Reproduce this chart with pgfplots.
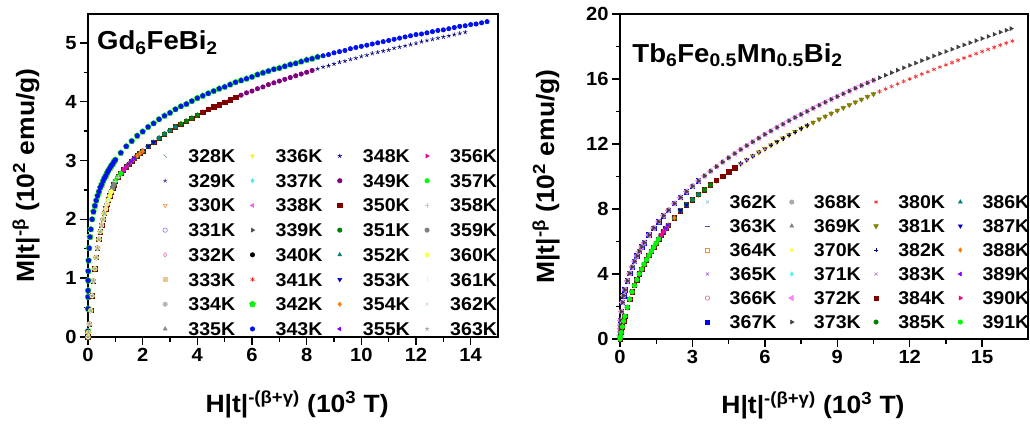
\documentclass[border=0pt]{standalone}
\usepackage{fontspec}
\setmainfont{Liberation Sans}[FakeStretch=1.06]
\usepackage{pgfplots}
\usepackage{pgfplotstable}
\pgfplotsset{compat=1.18}

% ---------- master curves ----------
\pgfplotstableread{
x y
0 0.10
0.0002 0.48
0.001 0.68
0.002 0.79
0.005 0.96
0.01 1.12
0.02 1.30
0.04 1.51
0.07 1.70
0.1 1.83
0.15 2.00
0.2 2.13
0.25 2.23
0.3 2.32
0.35 2.40
0.4 2.47
0.45 2.54
0.5 2.59
0.55 2.65
0.6 2.70
0.65 2.74
0.7 2.79
0.75 2.83
0.8 2.87
0.85 2.91
0.9 2.94
0.95 2.98
1.0 3.01
1.2 3.13
1.4 3.24
1.6 3.33
1.8 3.42
2.0 3.49
2.2 3.57
2.4 3.63
2.6 3.70
2.8 3.76
3.0 3.81
3.2 3.87
3.4 3.92
3.6 3.96
3.8 4.01
4.0 4.06
4.2 4.10
4.4 4.14
4.6 4.18
4.8 4.22
5.0 4.25
5.2 4.29
5.4 4.33
5.6 4.36
5.8 4.39
6.0 4.42
6.2 4.46
6.4 4.49
6.6 4.52
6.8 4.55
7.0 4.57
7.2 4.60
7.4 4.63
7.6 4.65
7.8 4.68
8.0 4.71
8.2 4.73
8.4 4.76
8.6 4.78
8.8 4.80
9.0 4.83
9.2 4.85
9.4 4.87
9.6 4.90
9.8 4.92
10.0 4.94
10.2 4.96
10.4 4.98
10.6 5.00
10.8 5.02
11.0 5.04
11.2 5.06
11.4 5.08
11.6 5.10
11.8 5.12
12.0 5.14
12.2 5.15
12.4 5.17
12.6 5.19
12.8 5.21
13.0 5.22
13.2 5.24
13.4 5.26
13.6 5.28
13.8 5.29
14.0 5.31
14.2 5.32
14.4 5.34
14.6 5.36
}\LU

\pgfplotstableread{
x y
0 0
0.02 0.08
0.05 0.22
0.1 0.45
0.15 0.70
0.2 0.95
0.25 1.16
0.3 1.35
0.35 1.51
0.4 1.66
0.45 1.79
0.5 1.90
0.55 2.00
0.6 2.10
0.65 2.18
0.7 2.26
0.75 2.33
0.8 2.40
0.85 2.47
0.9 2.53
0.95 2.59
1.0 2.65
1.1 2.72
1.2 2.78
1.3 2.84
1.4 2.89
1.5 2.94
1.6 2.99
1.7 3.04
1.8 3.08
1.9 3.12
2.0 3.16
2.2 3.24
2.4 3.31
2.6 3.38
2.8 3.45
3.0 3.51
3.2 3.57
3.4 3.62
3.6 3.67
3.8 3.72
4.0 3.77
4.2 3.82
4.4 3.87
4.6 3.91
4.8 3.95
5.0 3.99
5.2 4.03
5.4 4.07
5.6 4.11
5.8 4.15
6.0 4.18
6.2 4.22
6.4 4.25
6.6 4.29
6.8 4.32
7.0 4.35
7.2 4.38
7.4 4.41
7.6 4.44
7.8 4.47
8.0 4.50
8.2 4.53
8.4 4.56
8.6 4.59
8.8 4.61
9.0 4.64
9.2 4.67
9.4 4.69
9.6 4.72
9.8 4.74
10.0 4.77
10.2 4.79
10.4 4.82
10.6 4.84
10.8 4.86
11.0 4.88
11.2 4.91
11.4 4.93
11.6 4.95
11.8 4.97
12.0 4.99
12.2 5.02
12.4 5.04
12.6 5.06
12.8 5.08
13.0 5.10
13.2 5.12
13.4 5.14
13.6 5.16
13.8 5.18
}\LL

\pgfplotstableread{
x y
0 0.20
0.002 0.44
0.005 0.64
0.01 0.86
0.02 1.15
0.05 1.69
0.1 2.25
0.15 2.67
0.2 3.02
0.3 3.58
0.4 4.04
0.5 4.43
0.6 4.78
0.7 5.11
0.8 5.40
0.9 5.67
1.0 5.93
1.2 6.40
1.4 6.83
1.6 7.22
1.8 7.59
2.0 7.93
2.25 8.34
2.5 8.71
2.75 9.07
3.0 9.41
3.25 9.73
3.5 10.04
3.75 10.33
4.0 10.61
4.25 10.89
4.5 11.15
4.75 11.41
5.0 11.66
5.25 11.90
5.5 12.13
5.75 12.36
6.0 12.59
6.25 12.80
6.5 13.02
6.75 13.22
7.0 13.43
7.25 13.63
7.5 13.82
7.75 14.01
8.0 14.20
8.25 14.39
8.5 14.57
8.75 14.75
9.0 14.92
9.25 15.09
9.5 15.26
9.75 15.43
10.0 15.60
10.25 15.76
10.5 15.92
10.75 16.08
11.0 16.23
11.25 16.39
11.5 16.54
11.75 16.69
12.0 16.84
12.25 16.98
12.5 17.13
12.75 17.27
13.0 17.42
13.25 17.56
13.5 17.69
13.75 17.83
14.0 17.97
14.25 18.10
14.5 18.23
14.75 18.36
15.0 18.49
15.25 18.62
15.5 18.75
15.75 18.88
16.0 19.00
16.2 19.10
}\RU

\pgfplotstableread{
x y
0 0
0.02 0.15
0.05 0.40
0.1 0.75
0.15 1.10
0.2 1.40
0.3 1.95
0.4 2.45
0.5 2.90
0.6 3.30
0.7 3.65
0.8 4.00
0.9 4.30
1.0 4.60
1.1 4.88
1.2 5.15
1.3 5.40
1.4 5.65
1.5 5.90
1.6 6.15
1.7 6.38
1.8 6.60
1.9 6.80
2.0 7.00
2.25 7.45
2.5 7.90
2.75 8.25
3.0 8.57
3.25 8.89
3.5 9.19
3.75 9.48
4.0 9.76
4.25 10.03
4.5 10.29
4.75 10.54
5.0 10.79
5.25 11.03
5.5 11.26
5.75 11.49
6.0 11.71
6.25 11.93
6.5 12.14
6.75 12.35
7.0 12.56
7.25 12.75
7.5 12.95
7.75 13.14
8.0 13.33
8.25 13.52
8.5 13.70
8.75 13.88
9.0 14.06
9.25 14.23
9.5 14.40
9.75 14.57
10.0 14.74
10.25 14.91
10.5 15.07
10.75 15.23
11.0 15.39
11.25 15.54
11.5 15.70
11.75 15.85
12.0 16.00
12.25 16.15
12.5 16.30
12.75 16.44
13.0 16.59
13.25 16.73
13.5 16.87
13.75 17.01
14.0 17.15
14.25 17.29
14.5 17.42
14.75 17.56
15.0 17.69
15.25 17.82
15.5 17.95
15.75 18.08
16.0 18.21
16.25 18.34
}\RL

% ---------- colours ----------
\definecolor{k328}{HTML}{6A9C9C}
\definecolor{k329}{HTML}{4848A0}
\definecolor{k330}{HTML}{E8903C}
\definecolor{k331}{HTML}{A070D8}
\definecolor{k332}{HTML}{E078C8}
\definecolor{k333}{HTML}{E8C890}
\definecolor{k334}{HTML}{B8B8B8}
\definecolor{k335}{HTML}{888888}
\definecolor{k336}{HTML}{F0F040}
\definecolor{k337}{HTML}{60E8F0}
\definecolor{k338}{HTML}{F060F0}
\definecolor{k339}{HTML}{484848}
\definecolor{k340}{HTML}{000000}
\definecolor{k341}{HTML}{F02020}
\definecolor{k342}{HTML}{10F010}
\definecolor{k343}{HTML}{0010F0}
\definecolor{k348}{HTML}{000080}
\definecolor{k349}{HTML}{800080}
\definecolor{k350}{HTML}{800000}
\definecolor{k351}{HTML}{008000}
\definecolor{k352}{HTML}{008080}
\definecolor{k353}{HTML}{0000C0}
\definecolor{k354}{HTML}{FF8000}
\definecolor{k355}{HTML}{8000FF}
\definecolor{k356}{HTML}{FF00A0}
\definecolor{k357}{HTML}{00FF00}
\definecolor{k358}{HTML}{C8C8C8}
\definecolor{k359}{HTML}{808080}
\definecolor{k360}{HTML}{FFFF50}
\definecolor{k361}{HTML}{C0FFFF}
\definecolor{k362}{HTML}{F0C0F0}
\definecolor{k363}{HTML}{A0A0A0}
% right panel
\definecolor{r362}{HTML}{80C0E0}
\definecolor{r363}{HTML}{5050A8}
\definecolor{r364}{HTML}{F09030}
\definecolor{r365}{HTML}{A050E0}
\definecolor{r366}{HTML}{E06090}
\definecolor{r367}{HTML}{0000FF}
\definecolor{r368}{HTML}{A8A8A8}
\definecolor{r369}{HTML}{808080}
\definecolor{r370}{HTML}{FFFF40}
\definecolor{r371}{HTML}{60F0F0}
\definecolor{r372}{HTML}{FF80FF}
\definecolor{r373}{HTML}{404040}
\definecolor{r380}{HTML}{F03030}
\definecolor{r381}{HTML}{808000}
\definecolor{r382}{HTML}{000080}
\definecolor{r383}{HTML}{C080C0}
\definecolor{r384}{HTML}{800000}
\definecolor{r385}{HTML}{008000}
\definecolor{r386}{HTML}{008080}
\definecolor{r387}{HTML}{0000C0}
\definecolor{r388}{HTML}{FF8000}
\definecolor{r389}{HTML}{8000FF}
\definecolor{r390}{HTML}{FF0080}
\definecolor{r391}{HTML}{00FF00}

\newcommand{\tickfont}{\bfseries\fontsize{19bp}{19bp}\selectfont}
\newcommand{\labfont}{\bfseries\fontsize{25bp}{25bp}\selectfont}
\newcommand{\legfont}{\bfseries\fontsize{18.5bp}{18.5bp}\selectfont}

% one series: mark, colour, mark options, upper end of x, table
\newcommand{\ser}[5]{\addplot[only marks, mark=#1, color=#2, mark size=2.2bp,
  mark options={solid,line width=0.6bp,#3}, restrict x to domain=0:#4] table {#5};}

\pgfplotsset{
  panel/.style={
    scale only axis, clip=false,
    tick align=outside, xtick pos=bottom, ytick pos=left,
    axis line style={line width=1.6bp},
    tick style={line width=1.4bp, black},
    major tick length=8bp, minor tick length=4.5bp,
    minor x tick num=1, minor y tick num=1,
    /pgf/number format/assume math mode=true,
    ticklabel style={font=\tickfont},
    label style={font=\labfont},
    transpose legend,
    legend cell align=left,
    legend style={draw=none, fill=none, inner sep=0pt, outer sep=0pt,
      anchor=north west, font=\legfont,
      nodes={inner sep=0pt, text height=13bp, text depth=0bp}},
    legend image code/.code={\path (0bp,-6.5bp) (22bp,6.5bp);
      \draw[##1] plot coordinates {(11bp,0bp)};},
  }
}

\begin{document}
\begin{tikzpicture}
\useasboundingbox (0,0) rectangle (1030bp,427bp);

% ================= left panel =================
\begin{axis}[panel,
  at={(88bp,90bp)}, anchor=south west,
  width=410bp, height=323bp,
  xmin=0, xmax=15, ymin=0, ymax=5.49,
  xtick={0,2,...,14}, ytick={0,1,...,5},
  xlabel={H|t|\textsuperscript{-(β+γ)} (10\textsuperscript{3} T)},
  ylabel={M|t|\textsuperscript{-β} (10\textsuperscript{2} emu/g)},
  x label style={at={(axis description cs:0.51,-0.21)}, anchor=center},
  y label style={at={(axis description cs:-0.151,0.5)}, anchor=center},
  legend columns=8,
  legend style={at={(axis description cs:0.161,0.581)}, row sep=11.3bp,
      /tikz/every odd column/.append style={column sep=12bp},
      /tikz/every even column/.append style={column sep=6bp}},
]
\ser{|}{k328}{rotate=45}{0.65}{\LU}\addlegendentry{328K}
\ser{star}{k329}{}{0.72}{\LU}\addlegendentry{329K}
\ser{triangle}{k330}{rotate=180}{0.8}{\LU}\addlegendentry{330K}
\ser{o}{k331}{}{0.9}{\LU}\addlegendentry{331K}
\ser{diamond}{k332}{}{1.0}{\LU}\addlegendentry{332K}
\ser{square*}{k333}{}{1.1}{\LU}\addlegendentry{333K}
\ser{*}{k334}{}{1.3}{\LU}\addlegendentry{334K}
\ser{triangle*}{k335}{}{1.5}{\LU}\addlegendentry{335K}
\ser{triangle*}{k336}{rotate=180}{1.75}{\LU}\addlegendentry{336K}
\ser{diamond*}{k337}{}{2.1}{\LU}\addlegendentry{337K}
\ser{triangle*}{k338}{rotate=90}{2.5}{\LU}\addlegendentry{338K}
\ser{triangle*}{k339}{rotate=-90}{3.2}{\LU}\addlegendentry{339K}
\ser{*}{k340}{}{4.1}{\LU}\addlegendentry{340K}
\ser{asterisk}{k341}{}{5.7}{\LU}\addlegendentry{341K}
\ser{pentagon*}{k342}{scale=1.4}{8.5}{\LU}\addlegendentry{342K}
\ser{*}{k343}{}{14.7}{\LU}\addlegendentry{343K}
\ser{star}{k348}{}{13.8}{\LL}\addlegendentry{348K}
\ser{*}{k349}{}{8.2}{\LL}\addlegendentry{349K}
\ser{square*}{k350}{}{5.5}{\LL}\addlegendentry{350K}
\ser{*}{k351}{}{4.1}{\LL}\addlegendentry{351K}
\ser{triangle*}{k352}{}{3.2}{\LL}\addlegendentry{352K}
\ser{triangle*}{k353}{rotate=180}{2.5}{\LL}\addlegendentry{353K}
\ser{diamond*}{k354}{}{2.05}{\LL}\addlegendentry{354K}
\ser{triangle*}{k355}{rotate=90}{1.7}{\LL}\addlegendentry{355K}
\ser{triangle*}{k356}{rotate=-90}{1.45}{\LL}\addlegendentry{356K}
\ser{*}{k357}{}{1.25}{\LL}\addlegendentry{357K}
\ser{+}{k358}{}{1.1}{\LL}\addlegendentry{358K}
\ser{*}{k359}{}{0.95}{\LL}\addlegendentry{359K}
\ser{*}{k360}{}{0.85}{\LL}\addlegendentry{360K}
\ser{|}{k361}{}{0.75}{\LL}\addlegendentry{361K}
\ser{x}{k362}{}{0.7}{\LL}\addlegendentry{362K}
\ser{star}{k363}{}{0.62}{\LL}\addlegendentry{363K}
\node[anchor=base west, inner sep=0pt, font=\bfseries\fontsize{26bp}{26bp}\selectfont]
  at (axis description cs:0.022,0.889) {Gd\textsubscript{6}FeBi\textsubscript{2}};
\end{axis}

% ================= right panel =================
\begin{axis}[panel,
  at={(620bp,88bp)}, anchor=south west,
  width=408bp, height=325bp,
  xmin=0, xmax=16.9, ymin=0, ymax=20,
  xtick={0,3,...,15}, ytick={0,4,...,20},
  xlabel={H|t|\textsuperscript{-(β+γ)} (10\textsuperscript{3} T)},
  ylabel={M|t|\textsuperscript{-β} (10\textsuperscript{2} emu/g)},
  x label style={at={(axis description cs:0.473,-0.203)}, anchor=center},
  y label style={at={(axis description cs:-0.181,0.5)}, anchor=center},
  legend columns=6,
  legend style={at={(axis description cs:0.187,0.442)}, row sep=10.6bp,
      /tikz/every odd column/.append style={column sep=11bp},
      /tikz/every even column/.append style={column sep=4bp}},
]
\ser{x}{r362}{}{1.64}{\RU}\addlegendentry{362K}
\ser{-}{r363}{}{1.84}{\RU}\addlegendentry{363K}
\ser{square}{r364}{}{2.08}{\RU}\addlegendentry{364K}
\ser{x}{r365}{}{2.4}{\RU}\addlegendentry{365K}
\ser{o}{r366}{}{2.76}{\RU}\addlegendentry{366K}
\ser{square*}{r367}{}{3.25}{\RU}\addlegendentry{367K}
\ser{*}{r368}{}{3.9}{\RU}\addlegendentry{368K}
\ser{triangle*}{r369}{}{4.76}{\RU}\addlegendentry{369K}
\ser{triangle*}{r370}{rotate=180}{6.0}{\RU}\addlegendentry{370K}
\ser{diamond*}{r371}{}{7.8}{\RU}\addlegendentry{371K}
\ser{triangle*}{r372}{rotate=90,scale=1.4}{10.7}{\RU}\addlegendentry{372K}
\ser{triangle*}{r373}{rotate=-90}{16.2}{\RU}\addlegendentry{373K}
\ser{asterisk}{r380}{}{16.25}{\RL}\addlegendentry{380K}
\ser{triangle*}{r381}{rotate=180,scale=1.2}{10.7}{\RL}\addlegendentry{381K}
\ser{+}{r382}{}{7.8}{\RL}\addlegendentry{382K}
\ser{x}{r383}{}{6.0}{\RL}\addlegendentry{383K}
\ser{square*}{r384}{}{4.76}{\RL}\addlegendentry{384K}
\ser{*}{r385}{}{3.9}{\RL}\addlegendentry{385K}
\ser{triangle*}{r386}{}{3.25}{\RL}\addlegendentry{386K}
\ser{triangle*}{r387}{rotate=180}{2.76}{\RL}\addlegendentry{387K}
\ser{diamond*}{r388}{}{2.4}{\RL}\addlegendentry{388K}
\ser{triangle*}{r389}{rotate=90}{2.08}{\RL}\addlegendentry{389K}
\ser{triangle*}{r390}{rotate=-90}{1.84}{\RL}\addlegendentry{390K}
\ser{*}{r391}{}{1.64}{\RL}\addlegendentry{391K}
\node[anchor=base west, inner sep=0pt, font=\bfseries\fontsize{26bp}{26bp}\selectfont]
  at (axis description cs:0.03,0.852) {Tb\textsubscript{6}Fe\textsubscript{0.5}Mn\textsubscript{0.5}Bi\textsubscript{2}};
\end{axis}
\end{tikzpicture}
\end{document}
